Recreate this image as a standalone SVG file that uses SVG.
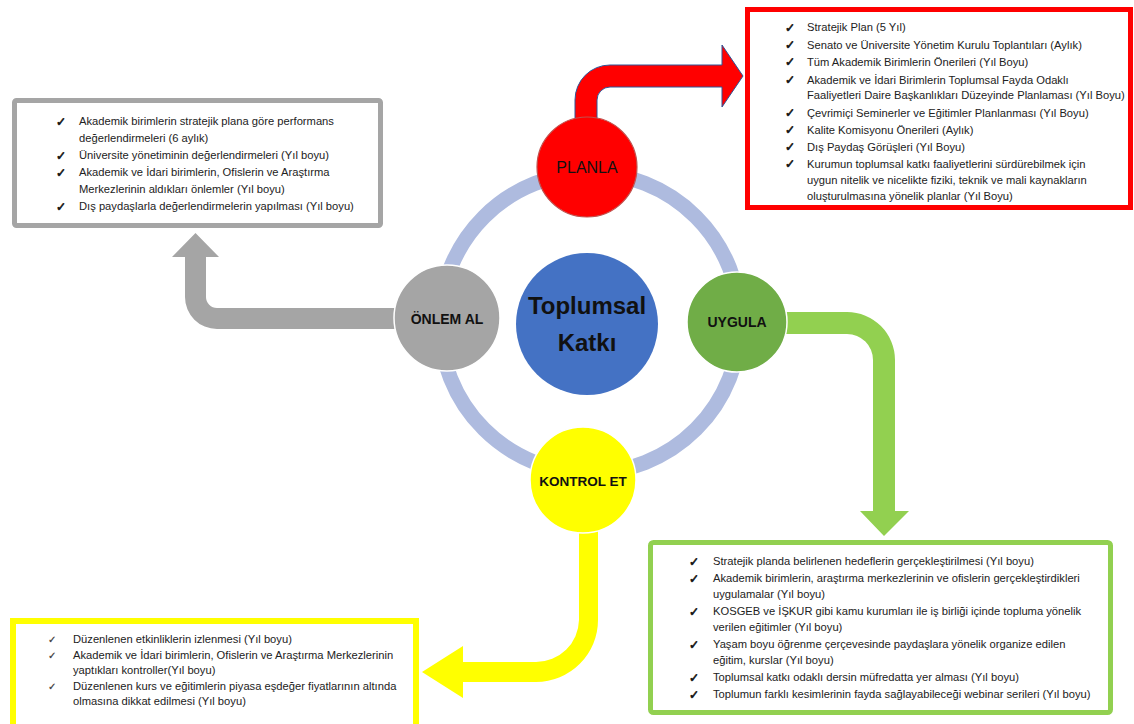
<svg xmlns="http://www.w3.org/2000/svg" width="1134" height="724" viewBox="0 0 1134 724">
<style>
.t{font-family:"Liberation Sans",Arial,sans-serif;font-size:11.2px;fill:#222}
.ck{font-family:"DejaVu Sans",sans-serif;font-size:12px;fill:#111;stroke:#111;stroke-width:0.7}
.ck2{font-family:"DejaVu Sans",sans-serif;font-size:10px;fill:#333;stroke:#333;stroke-width:0.2}
.lbl{font-family:"Liberation Sans",Arial,sans-serif;font-weight:bold;font-size:14px;fill:#111;text-anchor:middle}
</style>
<rect width="1134" height="724" fill="#fff"/>
<g id="ring"><circle cx="590" cy="323" r="150" fill="none" stroke="#AEBBDF" stroke-width="15"/></g>
<g id="connectors">
<path d="M575,120 L575,100 A35,35 0 0 1 610,65 L722,65 L722,45 L743,76 L722,107 L722,87 L610,87 A13,13 0 0 0 597,100 L597,120 Z" fill="#FF0000" stroke="#2F5597" stroke-width="1"/>
<path d="M760,312 L847,312 A48,48 0 0 1 895,360 L895,511 L909,511 L884,536 L860,511 L873,511 L873,360 A26,26 0 0 0 847,334 L760,334 Z" fill="#92D050"/>
<path d="M400,308 L217,308 A11,11 0 0 1 206,297 L206,257 L219,257 L195.5,233 L172,257 L185,257 L185,297 A32,32 0 0 0 217,329 L400,329 Z" fill="#A5A5A5"/>
<path d="M579,525 L598,525 L598,620 A62,62 0 0 1 536,682 L463,682 L463,698 L422,672 L463,646 L463,662 L536,662 A43,43 0 0 0 579,620 Z" fill="#FFFF00"/>
</g>
<g id="center"><circle cx="587" cy="324" r="71" fill="#4472C4"/>
<text class="lbl" style="font-size:24px" x="587" y="314">Toplumsal</text>
<text class="lbl" style="font-size:24px" x="587" y="351">Katkı</text></g>
<g id="planla"><circle cx="587" cy="167" r="50" fill="#FF0000" stroke="#C0504D" stroke-width="1.2"/>
<text class="lbl" style="font-weight:normal;font-size:16px" x="587" y="173">PLANLA</text></g>
<g id="uygula"><circle cx="737" cy="322" r="50" fill="#70AD47" stroke="#fff" stroke-width="1.5"/>
<text class="lbl" x="737" y="327">UYGULA</text></g>
<g id="kontrol-et"><circle cx="583" cy="480" r="53" fill="#FFFF00" stroke="#fff" stroke-width="1.5"/>
<text class="lbl" style="font-size:13.5px" x="583" y="486">KONTROL ET</text></g>
<g id="onlem-al"><circle cx="447" cy="318" r="53" fill="#A5A5A5" stroke="#fff" stroke-width="1.5"/>
<text class="lbl" x="447" y="324">ÖNLEM AL</text></g>
<g id="planla-box">
<rect x="747.5" y="9.5" width="383" height="198" fill="#fff" stroke="#FF0000" stroke-width="5"/>
<g class="ck"><text x="785" y="32">✓</text><text x="785" y="49">✓</text><text x="785" y="66">✓</text><text x="785" y="84">✓</text><text x="785" y="117">✓</text><text x="785" y="134">✓</text><text x="785" y="151">✓</text><text x="785" y="168">✓</text></g>
<g class="t">
<text x="807" y="31">Stratejik Plan (5 Yıl)</text>
<text x="807" y="49">Senato ve Üniversite Yönetim Kurulu Toplantıları (Aylık)</text>
<text x="807" y="66">Tüm Akademik Birimlerin Önerileri (Yıl Boyu)</text>
<text x="807" y="84">Akademik ve İdari Birimlerin Toplumsal Fayda Odaklı</text>
<text x="807" y="99">Faaliyetleri Daire Başkanlıkları Düzeyinde Planlaması (Yıl Boyu)</text>
<text x="807" y="117">Çevrimiçi Seminerler ve Eğitimler Planlanması (Yıl Boyu)</text>
<text x="807" y="134">Kalite Komisyonu Önerileri (Aylık)</text>
<text x="807" y="151">Dış Paydaş Görüşleri (Yıl Boyu)</text>
<text x="807" y="168">Kurumun toplumsal katkı faaliyetlerini sürdürebilmek için</text>
<text x="807" y="184">uygun nitelik ve nicelikte fiziki, teknik ve mali kaynakların</text>
<text x="807" y="200">oluşturulmasına yönelik planlar (Yıl Boyu)</text>
</g></g>
<g id="onlem-box">
<rect x="14.5" y="100.5" width="366" height="125" rx="2" fill="#fff" stroke="#A5A5A5" stroke-width="5"/>
<g class="ck"><text x="56" y="126">✓</text><text x="56" y="160">✓</text><text x="56" y="177">✓</text><text x="56" y="211">✓</text></g>
<g class="t">
<text x="79" y="125">Akademik birimlerin stratejik plana göre performans</text>
<text x="79" y="142">değerlendirmeleri (6 aylık)</text>
<text x="79" y="159">Üniversite yönetiminin değerlendirmeleri (Yıl boyu)</text>
<text x="79" y="176">Akademik ve İdari birimlerin, Ofislerin ve Araştırma</text>
<text x="79" y="193">Merkezlerinin aldıkları önlemler (Yıl boyu)</text>
<text x="79" y="210">Dış paydaşlarla değerlendirmelerin yapılması (Yıl boyu)</text>
</g></g>
<g id="uygula-box">
<rect x="650.5" y="542.5" width="460" height="170" rx="3" fill="#fff" stroke="#92D050" stroke-width="5"/>
<g class="ck"><text x="689" y="566">✓</text><text x="689" y="583">✓</text><text x="689" y="616">✓</text><text x="689" y="649">✓</text><text x="689" y="682">✓</text><text x="689" y="699">✓</text></g>
<g class="t">
<text x="713" y="565">Stratejik planda belirlenen hedeflerin gerçekleştirilmesi (Yıl boyu)</text>
<text x="713" y="582">Akademik birimlerin, araştırma merkezlerinin ve ofislerin gerçekleştirdikleri</text>
<text x="713" y="598">uygulamalar (Yıl boyu)</text>
<text x="713" y="615">KOSGEB ve İŞKUR gibi kamu kurumları ile iş birliği içinde topluma yönelik</text>
<text x="713" y="631">verilen eğitimler (Yıl boyu)</text>
<text x="713" y="648">Yaşam boyu öğrenme çerçevesinde paydaşlara yönelik organize edilen</text>
<text x="713" y="664">eğitim, kurslar (Yıl boyu)</text>
<text x="713" y="681">Toplumsal katkı odaklı dersin müfredatta yer alması (Yıl boyu)</text>
<text x="713" y="698">Toplumun farklı kesimlerinin fayda sağlayabileceği webinar serileri (Yıl boyu)</text>
</g></g>
<g id="kontrol-box">
<rect x="13" y="621" width="403" height="106" fill="#fff" stroke="#FFFF00" stroke-width="6"/>
<g class="ck2"><text x="48" y="643">✓</text><text x="48" y="659">✓</text><text x="48" y="690">✓</text></g>
<g class="t">
<text x="73" y="643">Düzenlenen etkinliklerin izlenmesi (Yıl boyu)</text>
<text x="73" y="659">Akademik ve İdari birimlerin, Ofislerin ve Araştırma Merkezlerinin</text>
<text x="73" y="674">yaptıkları kontroller(Yıl boyu)</text>
<text x="73" y="690">Düzenlenen kurs ve eğitimlerin piyasa eşdeğer fiyatlarının altında</text>
<text x="73" y="705">olmasına dikkat edilmesi (Yıl boyu)</text>
</g></g>
</svg>
